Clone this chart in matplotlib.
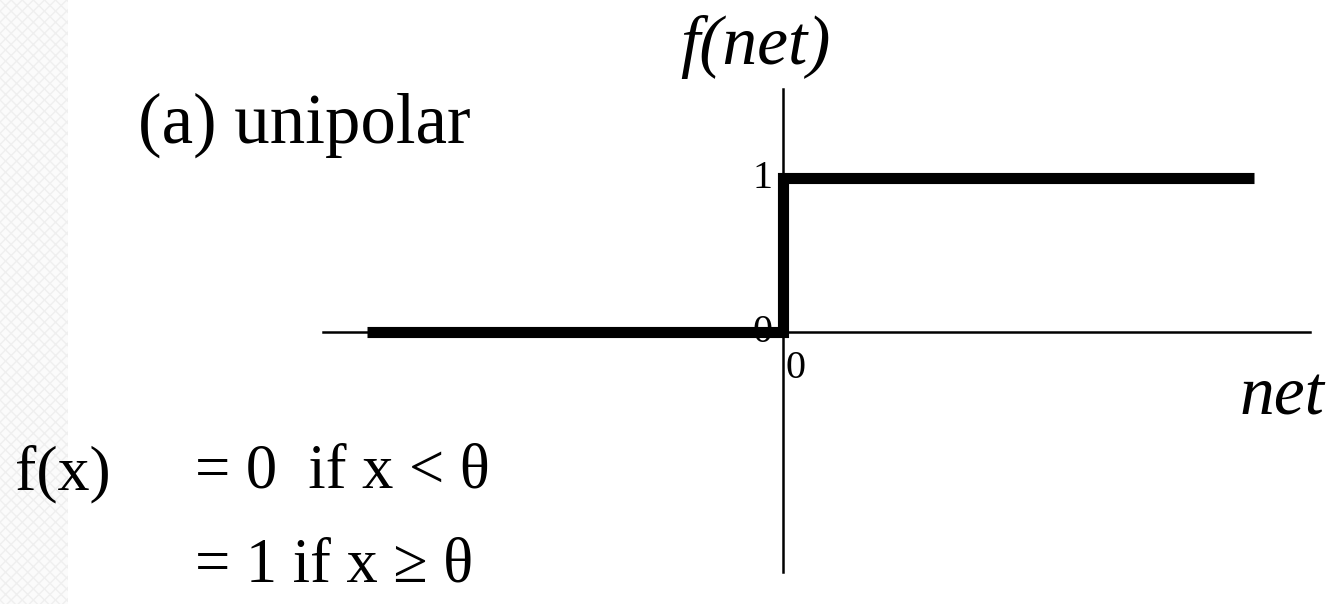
import numpy as np
import matplotlib.pyplot as plt
from matplotlib.patches import Rectangle

# unipolar step function f(net)
net_vals = [-2.7, 0.0, 0.0, 3.06]
f_vals = [0, 0, 1, 1]
y_ticks = [0, 1]
y_tick_labels = ['0', '1']

W, H = 1335, 604
fig = plt.figure(figsize=(W / 100, H / 100), dpi=100)
ax = fig.add_axes([0, 0, 1, 1])

# pixel -> data: x = 783 + net*154, y = 332 - f*154
ax.set_xlim(-783 / 154, (W - 783) / 154)
ax.set_ylim((332 - H) / 154, 332 / 154)
ax.axis('off')

# faint striped strip at the left edge
ax.add_patch(Rectangle((0, 0), 68 / W, 1, transform=fig.transFigure,
                       facecolor='#fbfbfb', edgecolor='#efefef', hatch='xxx',
                       linewidth=0, zorder=0))

serif = ['Liberation Serif', 'DejaVu Serif']

# axes lines
ax.plot([-2.99, 3.42], [0, 0], color='black', lw=1.8, zorder=2)
ax.plot([0, 0], [-1.56, 1.58], color='black', lw=1.8, zorder=2)

# the step
ax.plot(net_vals, f_vals, color='black', lw=8, solid_joinstyle='miter',
        solid_capstyle='butt', zorder=3)

def px(x, y):
    return x / W, 1 - y / H

for v, lab in zip(y_ticks, y_tick_labels):
    ax.text(-0.07, v, lab, ha='right', va='center', fontsize=29,
            family=serif)
ax.text(0.08, -0.24, '0', ha='center', va='center', fontsize=29, family=serif)

fig.text(*px(755, 47), 'f(net)', ha='center', va='center', fontsize=50,
         style='italic', family=serif)
fig.text(*px(138, 125), '(a) unipolar', ha='left', va='center', fontsize=51,
         family=serif)
fig.text(*px(1240, 398), 'net', ha='left', va='center', fontsize=50,
         style='italic', family=serif)

fig.text(*px(15, 474), 'f(x)', ha='left', va='center', fontsize=46,
         family=serif)
fig.text(*px(195, 472), '= 0  if x < θ', ha='left', va='center', fontsize=45,
         family=serif)
fig.text(*px(195, 567), '= 1 if x ≥ θ', ha='left', va='center', fontsize=45,
         family=serif)

fig.savefig('out.png', dpi=100, facecolor='white')
